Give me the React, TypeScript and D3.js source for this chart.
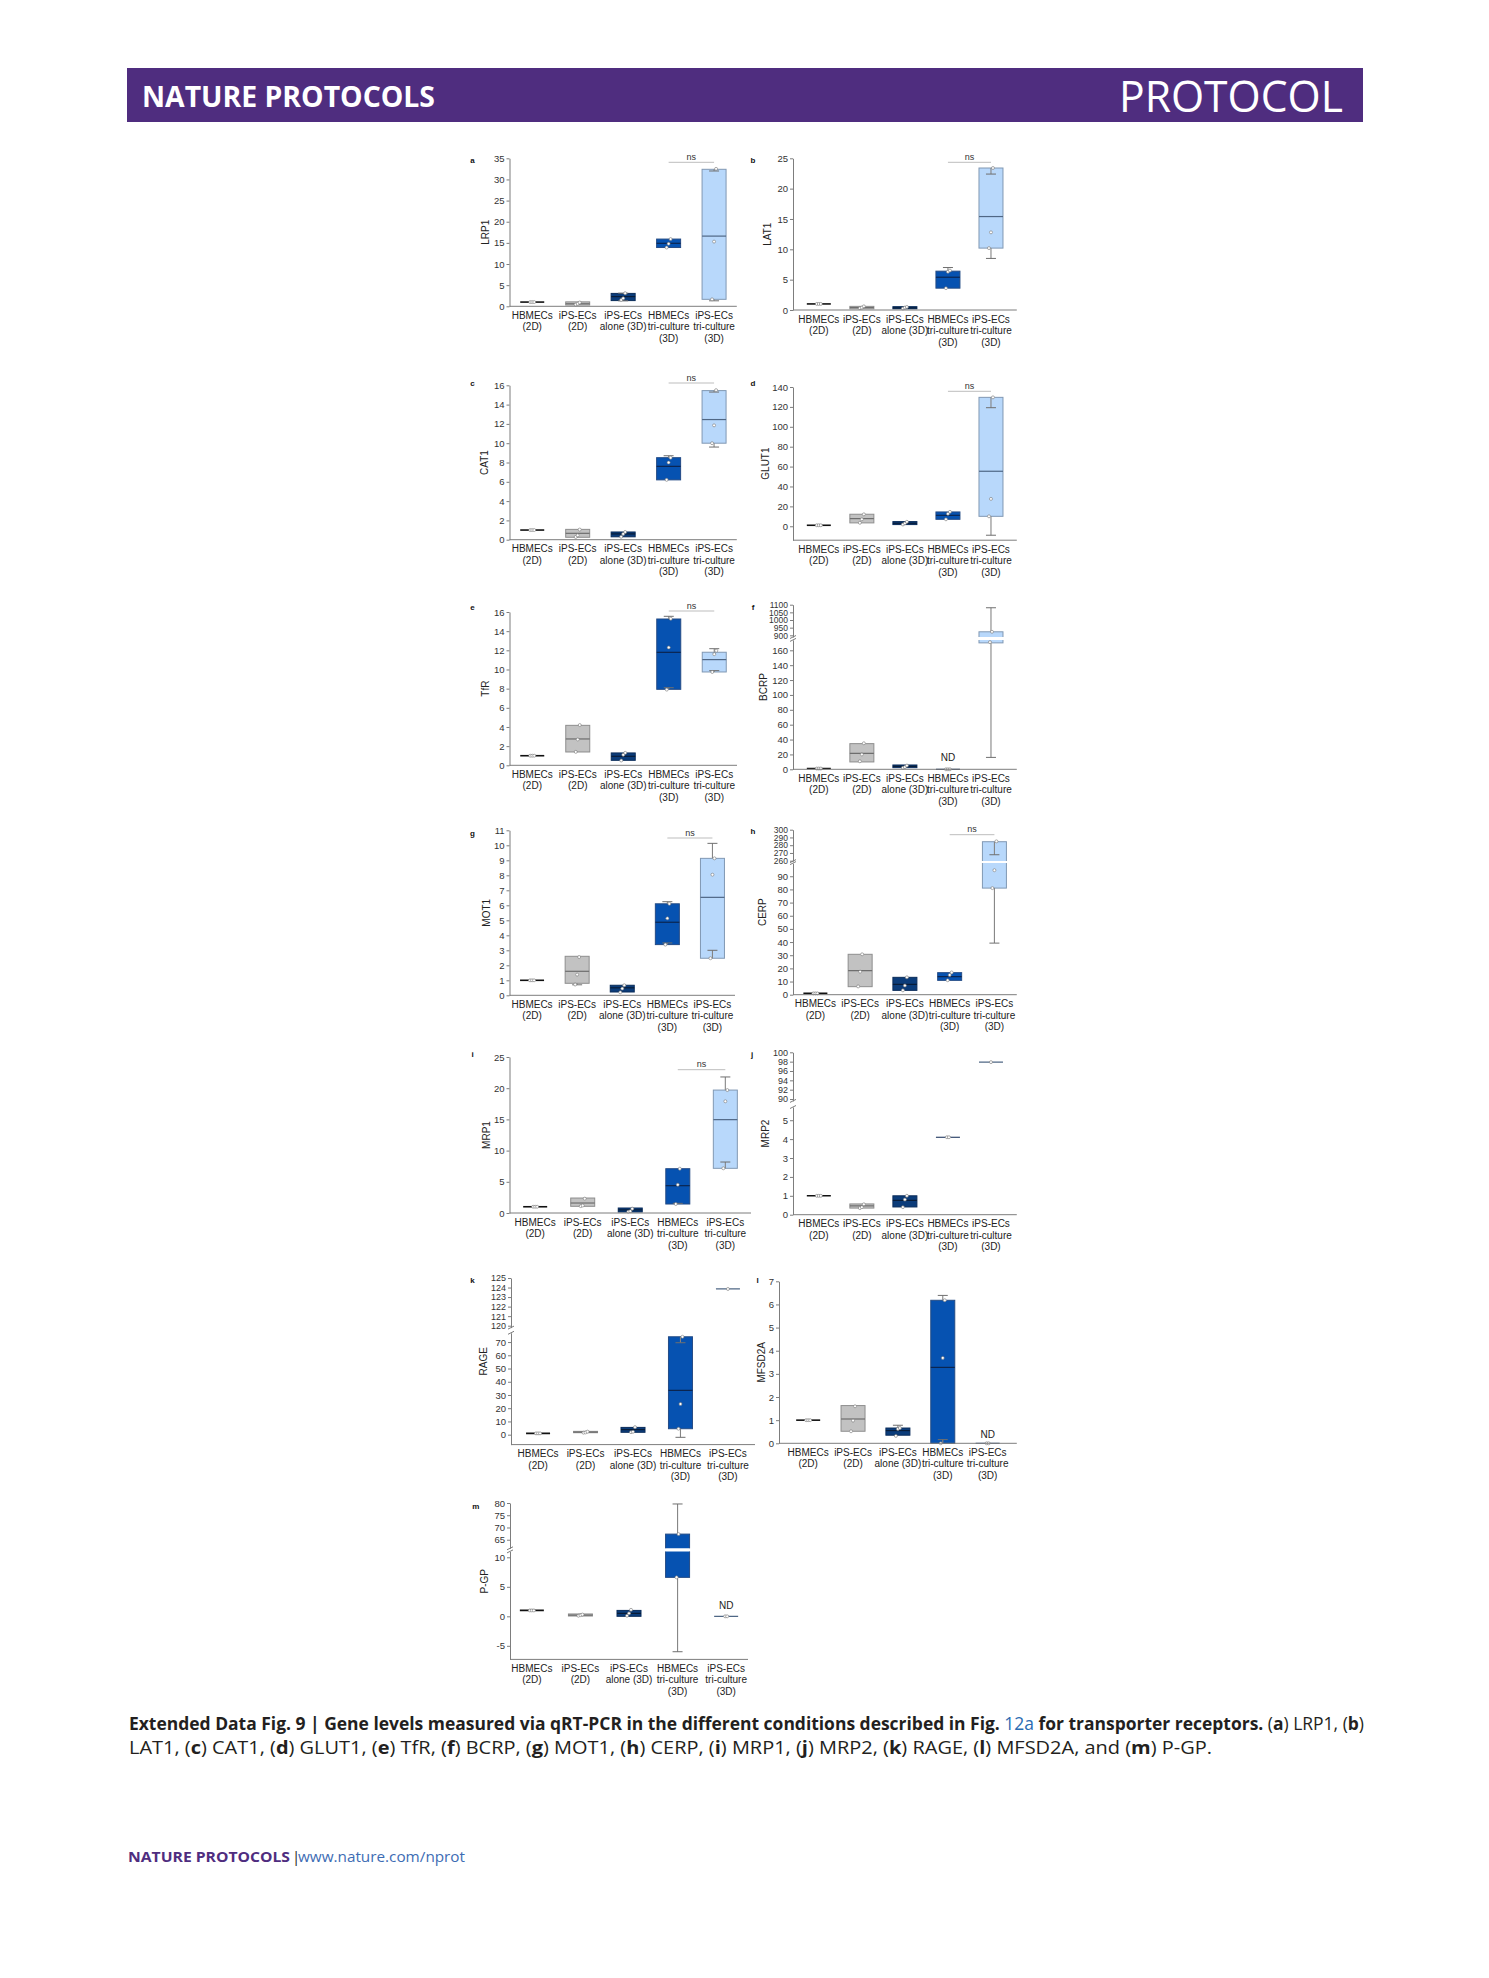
import { useEffect, useRef } from 'react';
import * as d3 from 'd3';

// x categories (same five conditions in every panel)
const groups = ['HBMECs (2D)', 'iPS-ECs (2D)', 'iPS-ECs alone (3D)', 'HBMECs tri-culture (3D)', 'iPS-ECs tri-culture (3D)'];
const groupLabels = [
  ['HBMECs', '(2D)'],
  ['iPS-ECs', '(2D)'],
  ['iPS-ECs', 'alone (3D)'],
  ['HBMECs', 'tri-culture', '(3D)'],
  ['iPS-ECs', 'tri-culture', '(3D)'],
];

// box stats: lo/hi = whisker caps (may sit inside the box), pts = single replicates
const lrp1 = [
  { q1: 1, med: 1, q3: 1, pts: [1, 1, 1] },
  { q1: 0.3, med: 0.6, q3: 1.05, pts: [0.4, 0.6, 0.9] },
  { lo: 1.3, q1: 1.35, med: 2.3, q3: 3.05, hi: 3.1, pts: [1.5, 1.9, 3.1] },
  { q1: 13.9, med: 14.9, q3: 15.9, pts: [13.9, 14.8, 15.9] },
  { lo: 1.3, q1: 1.65, med: 16.6, q3: 32.4, hi: 32.0, pts: [1.65, 15.3, 32.5] },
];
const lat1 = [
  { q1: 1, med: 1, q3: 1, pts: [1, 1, 1] },
  { q1: 0.2, med: 0.4, q3: 0.6, pts: [0.3, 0.4, 0.6] },
  { q1: 0.2, med: 0.35, q3: 0.55, pts: [0.25, 0.4, 0.5] },
  { q1: 3.6, med: 5.4, q3: 6.4, hi: 7.0, pts: [3.6, 6.3, 6.5] },
  { lo: 8.5, q1: 10.2, med: 15.4, q3: 23.4, hi: 22.4, pts: [10.2, 12.8, 23.4] },
];
const cat1 = [
  { q1: 1, med: 1, q3: 1, pts: [1, 1, 1] },
  { q1: 0.25, med: 0.66, q3: 1.07, pts: [0.28, 0.45, 1.05] },
  { q1: 0.3, med: 0.6, q3: 0.8, pts: [0.3, 0.6, 0.8] },
  { q1: 6.2, med: 7.6, q3: 8.5, hi: 8.7, pts: [6.2, 8.0, 8.5] },
  { lo: 9.6, q1: 10.0, med: 12.45, q3: 15.45, hi: 15.3, pts: [10.0, 11.85, 15.5] },
];
const glut1 = [
  { q1: 1, med: 1, q3: 1, pts: [1, 1, 1] },
  { q1: 3.4, med: 7.7, q3: 12.1, pts: [3.5, 7, 12] },
  { q1: 1.7, med: 3.0, q3: 4.7, pts: [1.8, 3, 4.5] },
  { q1: 7, med: 11, q3: 14.4, pts: [7, 12.5, 14.5] },
  { lo: -9, q1: 10, med: 55.3, q3: 129.6, hi: 119.2, pts: [10, 27.5, 129.6] },
];
const tfr = [
  { q1: 1, med: 1, q3: 1, pts: [1, 1, 1] },
  { q1: 1.39, med: 2.75, q3: 4.17, pts: [1.4, 2.7, 4.2] },
  { q1: 0.52, med: 0.94, q3: 1.29, pts: [0.5, 1.1, 1.3] },
  { lo: 8.1, q1: 7.93, med: 11.79, q3: 15.27, hi: 15.55, pts: [7.9, 12.3, 15.3] },
  { lo: 9.88, q1: 9.74, med: 11.03, q3: 11.8, hi: 12.17, pts: [9.74, 11.6, 11.96] },
];
const bcrp = [
  { q1: 1, med: 1, q3: 1, pts: [1, 1, 1] },
  { q1: 9.9, med: 21.5, q3: 34.5, pts: [10.8, 20, 35] },
  { q1: 2.2, med: 4, q3: 5.8, pts: [2, 3, 5] },
  { q1: 0, med: 0, q3: 0, pts: [0, 0, 0] },
  { lo: 16, q1: 170, med: 600, q3: 923, hi: 1080, pts: [171, 923] },
];
const mot1 = [
  { q1: 1, med: 1, q3: 1, pts: [1, 1, 1] },
  { lo: 0.7, q1: 0.8, med: 1.6, q3: 2.6, pts: [0.72, 1.38, 2.55] },
  { q1: 0.22, med: 0.5, q3: 0.67, pts: [0.2, 0.45, 0.67] },
  { lo: 3.49, q1: 3.38, med: 4.87, q3: 6.1, hi: 6.24, pts: [3.38, 5.13, 6.1] },
  { lo: 3.0, q1: 2.47, med: 6.53, q3: 9.13, hi: 10.13, pts: [2.47, 8.04, 9.13] },
];
const cerp = [
  { q1: 1, med: 1, q3: 1, pts: [1, 1, 1] },
  { q1: 6.1, med: 18.3, q3: 30.7, pts: [6.3, 17.5, 30.7] },
  { q1: 3.3, med: 7.9, q3: 13.2, pts: [3.3, 7, 13.2] },
  { q1: 10.9, med: 13.7, q3: 16.75, pts: [11, 15, 16.9] },
  { lo: 39.2, q1: 81, med: 180, q3: 284.5, hi: 267.7, pts: [81, 94.6, 285] },
];
const mrp1 = [
  { q1: 1, med: 1, q3: 1, pts: [1, 1, 1] },
  { q1: 1.07, med: 1.6, q3: 2.4, pts: [1.1, 1.2, 2.3] },
  { q1: 0.16, med: 0.5, q3: 0.8, pts: [0.2, 0.3, 0.7] },
  { lo: 1.55, q1: 1.44, med: 4.38, q3: 7.1, pts: [1.44, 4.54, 7.1] },
  { lo: 8.17, q1: 7.16, med: 14.96, q3: 19.7, hi: 21.8, pts: [7.16, 17.9, 19.7] },
];
const mrp2 = [
  { q1: 1, med: 1, q3: 1, pts: [1, 1, 1] },
  { q1: 0.35, med: 0.47, q3: 0.57, pts: [0.35, 0.4, 0.55] },
  { q1: 0.41, med: 0.76, q3: 1.0, pts: [0.4, 0.8, 1.0] },
  { q1: 4.1, med: 4.1, q3: 4.1, pts: [4.1, 4.1] },
  { q1: 97.9, med: 97.9, q3: 97.9, pts: [97.9] },
];
const rage = [
  { q1: 1, med: 1, q3: 1, pts: [1, 1, 1] },
  { q1: 1.5, med: 2, q3: 2.5, pts: [1.5, 1.7, 2.3] },
  { q1: 1.8, med: 3.8, q3: 5.5, pts: [1.9, 2.2, 5.7] },
  { lo: -2, q1: 4.5, med: 33.5, q3: 74, hi: 69.5, pts: [4.5, 23.2, 74] },
  { q1: 123.85, med: 123.85, q3: 123.85, pts: [123.85] },
];
const mfsd2a = [
  { q1: 1, med: 1, q3: 1, pts: [1, 1, 1] },
  { q1: 0.52, med: 1.05, q3: 1.63, pts: [0.52, 0.98, 1.6] },
  { q1: 0.35, med: 0.55, q3: 0.66, hi: 0.78, pts: [0.32, 0.62, 0.66] },
  { lo: 0.16, q1: 0, med: 3.28, q3: 6.18, hi: 6.39, pts: [0, 3.69, 6.18] },
  { q1: 0, med: 0, q3: 0, pts: [0, 0] },
];
const pgp = [
  { q1: 1, med: 1, q3: 1, pts: [1, 1, 1] },
  { q1: 0.05, med: 0.2, q3: 0.4, pts: [0.1, 0.2, 0.3] },
  { q1: 0, med: 0.5, q3: 1.0, pts: [0.1, 0.5, 1.1] },
  { lo: -6, q1: 6.6, med: 30, q3: 67.3, hi: 79.6, pts: [6.6, 67.3] },
  { q1: 0, med: 0, q3: 0, pts: [0, 0] },
];

// tick labels
const lrp1Ticks = [0, 5, 10, 15, 20, 25, 30, 35];
const lat1Ticks = [0, 5, 10, 15, 20, 25];
const cat1Ticks = [0, 2, 4, 6, 8, 10, 12, 14, 16];
const glut1Ticks = [0, 20, 40, 60, 80, 100, 120, 140];
const tfrTicks = [0, 2, 4, 6, 8, 10, 12, 14, 16];
const bcrpTicksHigh = [900, 950, 1000, 1050, 1100];
const bcrpTicksLow = [0, 20, 40, 60, 80, 100, 120, 140, 160];
const mot1Ticks = [0, 1, 2, 3, 4, 5, 6, 7, 8, 9, 10, 11];
const cerpTicksHigh = [260, 270, 280, 290, 300];
const cerpTicksLow = [0, 10, 20, 30, 40, 50, 60, 70, 80, 90];
const mrp1Ticks = [0, 5, 10, 15, 20, 25];
const mrp2TicksHigh = [90, 92, 94, 96, 98, 100];
const mrp2TicksLow = [0, 1, 2, 3, 4, 5];
const rageTicksHigh = [120, 121, 122, 123, 124, 125];
const rageTicksLow = [0, 10, 20, 30, 40, 50, 60, 70];
const mfsd2aTicks = [0, 1, 2, 3, 4, 5, 6, 7];
const pgpTicksHigh = [65, 70, 75, 80];
const pgpTicksLow = [-5, 0, 5, 10];

const FONT = 'Liberation Sans, Arial, Helvetica, sans-serif';
const AXIS = '#7d7d7d';
const fills = ['#ffffff', '#c2c2c2', '#0b3c7a', '#0652b1', '#b8d8fb'];
const strokes = ['#1a1a1a', '#8e8e8e', '#0a2c5a', '#244b85', '#8198b3'];
const medians = ['#111111', '#6e6e6e', '#081c38', '#0b2550', '#4f6785'];

// panel layout (pixel positions on the page)
const panels = [
  { letter: 'a', title: 'LRP1', data: lrp1, x: [509.5, 736.8], pad: 0.5, segs: [{ d: [0, 35], r: [306.3, 158.3], t: lrp1Ticks }], ns: 162.3, lp: [472.5, 160], tdx: -21 },
  { letter: 'b', title: 'LAT1', data: lat1, x: [793, 1016.8], pad: 0.6, segs: [{ d: [0, 25], r: [310, 158.3], t: lat1Ticks }], ns: 162.3, lp: [753, 160], tdx: -22 },
  { letter: 'c', title: 'CAT1', data: cat1, x: [509.5, 736.8], pad: 0.5, segs: [{ d: [0, 16], r: [539.7, 385.3], t: cat1Ticks }], ns: 383, lp: [472.5, 383], tdx: -22 },
  { letter: 'd', title: 'GLUT1', data: glut1, x: [793, 1016.8], pad: 0.6, segs: [{ d: [-14, 140], r: [540.2, 387], t: glut1Ticks }], ns: 391.3, lp: [753, 383], tdx: -24 },
  { letter: 'e', title: 'TfR', data: tfr, x: [509.5, 737], pad: 0.5, segs: [{ d: [0, 16], r: [765.3, 612], t: tfrTicks }], ns: 611, lp: [472.5, 607], tdx: -21 },
  { letter: 'f', title: 'BCRP', data: bcrp, x: [793, 1016.8], pad: 0.6, segs: [{ d: [889, 1100], r: [637, 604.7], t: bcrpTicksHigh, fs: 8.5 }, { d: [0, 174], r: [769.3, 639.9], t: bcrpTicksLow }], nd: { i: 3, y: 760.5 }, lp: [753, 607], tdx: -26 },
  { letter: 'g', title: 'MOT1', data: mot1, x: [509.5, 735], pad: 0.5, segs: [{ d: [0, 11], r: [995.3, 830.3], t: mot1Ticks }], ns: 838, lp: [472.5, 833], tdx: -20 },
  { letter: 'h', title: 'CERP', data: cerp, x: [793, 1016.8], pad: 0.5, segs: [{ d: [259.5, 300], r: [861.1, 829.7], t: cerpTicksHigh, fs: 8.5 }, { d: [0, 100], r: [994.7, 863.1], t: cerpTicksLow }], ns: 834.7, lp: [753, 831], tdx: -27 },
  { letter: 'i', title: 'MRP1', data: mrp1, x: [509.5, 751], pad: 0.54, segs: [{ d: [0, 25], r: [1213, 1057], t: mrp1Ticks }], ns: 1069.7, lp: [472.5, 1053.7], tdx: -20 },
  { letter: 'j', title: 'MRP2', data: mrp2, x: [793, 1016.8], pad: 0.6, segs: [{ d: [89.6, 100], r: [1100.9, 1052.3], t: mrp2TicksHigh, fs: 9 }, { d: [0, 5.7], r: [1214.7, 1107], t: mrp2TicksLow }], lp: [752, 1053.7], tdx: -24 },
  { letter: 'k', title: 'RAGE', data: rage, x: [511, 755], pad: 0.57, segs: [{ d: [119.8, 125], r: [1327.6, 1278], t: rageTicksHigh, fs: 9 }, { d: [-7.5, 77], r: [1444.6, 1332.8], t: rageTicksLow }], lp: [472.5, 1279.7], tdx: -24 },
  { letter: 'l', title: 'MFSD2A', data: mfsd2a, x: [779, 1016.8], pad: 0.65, segs: [{ d: [0, 7], r: [1443.3, 1281.3], t: mfsd2aTicks }], nd: { i: 4, y: 1437.5 }, lp: [757.5, 1279.7], tdx: -14 },
  { letter: 'm', title: 'P-GP', data: pgp, x: [510, 748], pad: 0.45, segs: [{ d: [61.5, 80], r: [1548.3, 1503], t: pgpTicksHigh }, { d: [-7.3, 11], r: [1659.4, 1551.4], t: pgpTicksLow }], nd: { i: 4, y: 1609 }, lp: [475.7, 1506.3], tdx: -22 },
];

const BOX_W = 24;
const CAP_W = 10;

function drawBox(layer, bx, i, cx, y) {
  const lo = bx.lo ?? bx.q1;
  const hi = bx.hi ?? bx.q3;
  const yt = y(bx.q3);
  const yb = y(bx.q1);
  if (yb - yt > 0.8) {
    layer.append('rect')
      .attr('x', cx - BOX_W / 2).attr('y', yt)
      .attr('width', BOX_W).attr('height', yb - yt)
      .attr('fill', fills[i]).attr('stroke', strokes[i]).attr('stroke-width', 1);
  }
  const whisk = (from, to) => {
    layer.append('line').attr('x1', cx).attr('x2', cx).attr('y1', y(from)).attr('y2', y(to))
      .attr('stroke', '#858585').attr('stroke-width', 1.1);
    layer.append('line').attr('x1', cx - CAP_W / 2).attr('x2', cx + CAP_W / 2).attr('y1', y(to)).attr('y2', y(to))
      .attr('stroke', '#6f6f6f').attr('stroke-width', 1);
  };
  if (hi !== bx.q3) whisk(bx.q3, hi);
  if (lo !== bx.q1) whisk(bx.q1, lo);
  layer.append('line')
    .attr('x1', cx - BOX_W / 2).attr('x2', cx + BOX_W / 2)
    .attr('y1', y(bx.med)).attr('y2', y(bx.med))
    .attr('stroke', medians[i]).attr('stroke-width', i === 0 ? 1.6 : 1.2);
  bx.pts.forEach((v, k) => {
    layer.append('circle')
      .attr('cx', cx + (k - (bx.pts.length - 1) / 2) * 2)
      .attr('cy', y(v)).attr('r', 1.5)
      .attr('fill', '#ffffff').attr('stroke', '#777777').attr('stroke-width', 0.6);
  });
}

function drawPanel(root, p) {
  const g = root.append('g');
  const x = d3.scalePoint().domain(d3.range(groups.length)).range(p.x).padding(p.pad);
  const segs = p.segs.map((s) => ({ ...s, y: d3.scaleLinear().domain(s.d).range(s.r) }));
  const ax0 = p.x[0];
  const baseY = segs[segs.length - 1].r[0];
  const topY = segs[0].r[1];
  const broken = segs.length > 1;

  // marks, clipped per axis segment
  segs.forEach((s, si) => {
    const layer = g.append('g');
    if (broken) {
      const top = si === 0 ? s.r[1] - 4 : s.r[1];
      const bot = si === segs.length - 1 ? s.r[0] + 4 : s.r[0];
      const id = `clip-${p.letter}-${si}`;
      g.append('clipPath').attr('id', id).append('rect')
        .attr('x', ax0 + 0.5).attr('y', top).attr('width', p.x[1] - ax0).attr('height', bot - top);
      layer.attr('clip-path', `url(#${id})`);
    }
    p.data.forEach((bx, i) => drawBox(layer, bx, i, x(i), s.y));
  });

  // axes
  g.append('line').attr('x1', ax0).attr('x2', p.x[1]).attr('y1', baseY).attr('y2', baseY)
    .attr('stroke', AXIS).attr('stroke-width', 1);
  segs.forEach((s) => {
    const axis = d3.axisLeft(s.y).tickValues(s.t).tickFormat((d) => String(d))
      .tickSize(3).tickSizeOuter(0).tickPadding(2);
    const a = g.append('g').attr('transform', `translate(${ax0},0)`).call(axis);
    a.attr('font-family', FONT).attr('font-size', s.fs || 9.5);
    a.select('.domain').attr('stroke', AXIS);
    a.selectAll('.tick line').attr('stroke', AXIS);
    a.selectAll('.tick text').attr('fill', '#333');
  });
  if (broken) {
    [segs[0].r[0], segs[1].r[1]].forEach((yy) => {
      g.append('line').attr('x1', ax0 - 3).attr('x2', ax0 + 3).attr('y1', yy + 1.5).attr('y2', yy - 1.5)
        .attr('stroke', AXIS).attr('stroke-width', 1);
    });
  }

  // category labels
  groupLabels.forEach((lines, i) => {
    const t = g.append('text').attr('text-anchor', 'middle').attr('font-family', FONT)
      .attr('font-size', 10).attr('fill', '#222');
    lines.forEach((ln, k) => {
      t.append('tspan').attr('x', x(i)).attr('y', baseY + 12.5 + k * 11.5).text(ln);
    });
  });

  // axis title and panel letter
  g.append('text')
    .attr('transform', `translate(${ax0 + p.tdx},${(topY + baseY) / 2}) rotate(-90)`)
    .attr('text-anchor', 'middle').attr('font-family', FONT).attr('font-size', 10).attr('fill', '#222')
    .text(p.title);
  g.append('text').attr('x', p.lp[0]).attr('y', p.lp[1] + 3).attr('text-anchor', 'middle')
    .attr('font-family', FONT).attr('font-weight', 'bold').attr('font-size', 8).attr('fill', '#111')
    .text(p.letter);

  if (p.ns) {
    g.append('line').attr('x1', x(3)).attr('x2', x(4)).attr('y1', p.ns).attr('y2', p.ns)
      .attr('stroke', '#bdbdbd').attr('stroke-width', 1);
    g.append('text').attr('x', (x(3) + x(4)) / 2).attr('y', p.ns - 2.5).attr('text-anchor', 'middle')
      .attr('font-family', FONT).attr('font-size', 9).attr('fill', '#333').text('ns');
  }
  if (p.nd) {
    g.append('text').attr('x', x(p.nd.i)).attr('y', p.nd.y).attr('text-anchor', 'middle')
      .attr('font-family', FONT).attr('font-size', 10).attr('fill', '#222').text('ND');
  }
}

export default function App() {
  const ref = useRef(null);

  useEffect(() => {
    const root = d3.select(ref.current);
    root.selectAll('*').remove();
    panels.forEach((p) => drawPanel(root, p));
  }, []);

  const bold = { fontWeight: 700 };
  const blue = '#2b6cb3';

  return (
    <div style={{ position: 'absolute', left: 0, top: 0, width: 1489, height: 1978, background: '#fff' }}>
      <svg width={1489} height={1978} viewBox="0 0 1489 1978">
        <rect x={0} y={0} width={1489} height={1978} fill="#ffffff" />
        {/* journal banner */}
        <rect x={127} y={68} width={1236} height={54} fill="#4f2d7f" />
        <text x={142} y={107} fill="#fff" fontFamily="Open Sans, sans-serif" fontWeight={700} fontSize={28}
          textLength={293} lengthAdjust="spacingAndGlyphs">NATURE PROTOCOLS</text>
        <text x={1119} y={112} fill="#fff" fontFamily="Open Sans, sans-serif" fontWeight={400} fontSize={43}
          textLength={224} lengthAdjust="spacingAndGlyphs">PROTOCOL</text>

        <g ref={ref} />

        {/* caption */}
        <text x={129} y={1730} fontFamily="Open Sans, sans-serif" fontSize={17.5} fill="#231f20"
          textLength={1235} lengthAdjust="spacingAndGlyphs">
          <tspan style={bold}>Extended Data Fig. 9 | Gene levels measured via qRT-PCR in the different conditions described in Fig. </tspan>
          <tspan fill={blue}>12a</tspan>
          <tspan style={bold}> for transporter receptors.</tspan>
          <tspan> (</tspan><tspan style={bold}>a</tspan><tspan>) LRP1, (</tspan><tspan style={bold}>b</tspan><tspan>)</tspan>
        </text>
        <text x={129} y={1754} fontFamily="Open Sans, sans-serif" fontSize={17.5} fill="#231f20"
          textLength={1083} lengthAdjust="spacingAndGlyphs">
          <tspan>LAT1, (</tspan><tspan style={bold}>c</tspan><tspan>) CAT1, (</tspan><tspan style={bold}>d</tspan>
          <tspan>) GLUT1, (</tspan><tspan style={bold}>e</tspan><tspan>) TfR, (</tspan><tspan style={bold}>f</tspan>
          <tspan>) BCRP, (</tspan><tspan style={bold}>g</tspan><tspan>) MOT1, (</tspan><tspan style={bold}>h</tspan>
          <tspan>) CERP, (</tspan><tspan style={bold}>i</tspan><tspan>) MRP1, (</tspan><tspan style={bold}>j</tspan>
          <tspan>) MRP2, (</tspan><tspan style={bold}>k</tspan><tspan>) RAGE, (</tspan><tspan style={bold}>l</tspan>
          <tspan>) MFSD2A, and (</tspan><tspan style={bold}>m</tspan><tspan>) P-GP.</tspan>
        </text>

        {/* footer */}
        <text x={128} y={1862} fontFamily="Open Sans, sans-serif" fontWeight={700} fontSize={15} fill="#4f2d7f"
          textLength={162} lengthAdjust="spacingAndGlyphs">NATURE PROTOCOLS</text>
        <text x={292} y={1862} fontFamily="Open Sans, sans-serif" fontSize={15} fill="#231f20">|</text>
        <text x={298} y={1862} fontFamily="Open Sans, sans-serif" fontSize={15} fill="#3d6cb4"
          textLength={167} lengthAdjust="spacingAndGlyphs">www.nature.com/nprot</text>
      </svg>
    </div>
  );
}
